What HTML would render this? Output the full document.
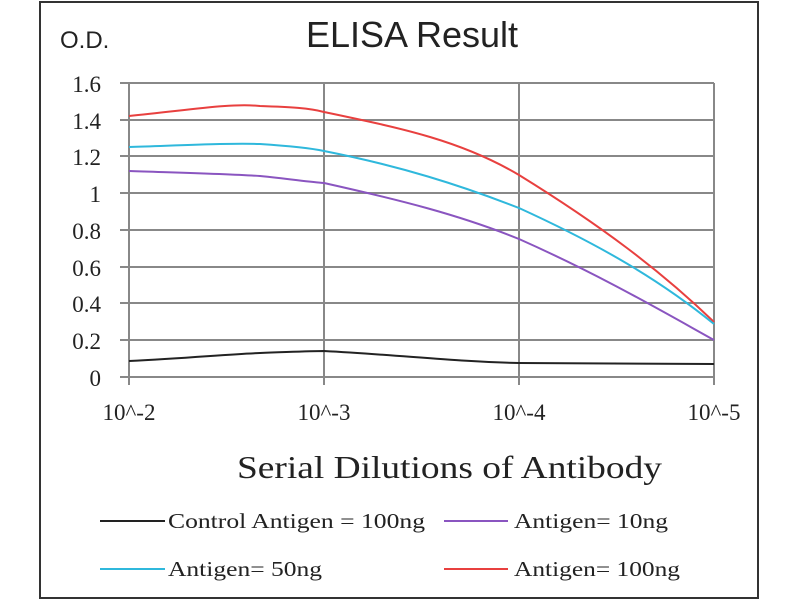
<!DOCTYPE html>
<html><head><style>body{margin:0;background:#fff}svg{display:block}</style></head>
<body>
<svg width="800" height="600" xmlns="http://www.w3.org/2000/svg">
<rect width="800" height="600" fill="#fff"/>
<rect x="40" y="2" width="718" height="596" fill="none" stroke="#333" stroke-width="2"/>
<text x="60" y="48" font-family="Liberation Sans, sans-serif" font-size="24" fill="#222">O.D.</text>
<text x="412" y="47" text-anchor="middle" font-family="Liberation Sans, sans-serif" font-size="36" fill="#222">ELISA Result</text>
<g stroke="#888" stroke-width="2">
<line x1="120" y1="83" x2="714" y2="83"/><line x1="120" y1="120" x2="714" y2="120"/>
<line x1="120" y1="156" x2="714" y2="156"/><line x1="120" y1="193" x2="714" y2="193"/>
<line x1="120" y1="230" x2="714" y2="230"/><line x1="120" y1="267" x2="714" y2="267"/>
<line x1="120" y1="303" x2="714" y2="303"/><line x1="120" y1="340" x2="714" y2="340"/>
<line x1="120" y1="377" x2="714" y2="377"/>
<line x1="129" y1="83" x2="129" y2="385"/><line x1="324" y1="83" x2="324" y2="385"/>
<line x1="519" y1="83" x2="519" y2="385"/><line x1="714" y1="83" x2="714" y2="385"/>
</g>
<g font-family="Liberation Serif, serif" font-size="23" fill="#222" text-anchor="end">
<text x="101" y="92">1.6</text><text x="101" y="129">1.4</text><text x="101" y="165">1.2</text>
<text x="101" y="202">1</text><text x="101" y="239">0.8</text><text x="101" y="276">0.6</text>
<text x="101" y="312">0.4</text><text x="101" y="349">0.2</text><text x="101" y="386">0</text>
</g>
<g font-family="Liberation Serif, serif" font-size="23" fill="#222" text-anchor="middle">
<text x="129" y="420">10^-2</text><text x="324" y="420">10^-3</text>
<text x="519" y="420">10^-4</text><text x="714" y="420">10^-5</text>
</g>
<text x="237" y="478" textLength="425" lengthAdjust="spacingAndGlyphs" font-family="Liberation Serif, serif" font-size="32" fill="#222">Serial Dilutions  of Antibody</text>
<g fill="none" stroke-width="2">
<path d="M129 116 C190 110 230 103 260 106 C290 107 310 108 324 112 C400 128 460 140 519 175 C600 225 660 270 714 322" stroke="#e8403f"/>
<path d="M129 147 C190 145 230 143 260 144 C290 146 310 148 324 151 C400 166 460 185 519 208 C600 245 660 280 714 324" stroke="#2fb8dc"/>
<path d="M129 171 C190 173 230 174 260 176 C290 179 310 182 324 183 C400 200 460 215 519 239 C600 275 660 310 714 340" stroke="#8a55c0"/>
<path d="M129 361 C190 358 230 354 260 353 C290 352 310 351 324 351 C400 355 460 362 519 363 C600 364 660 364 714 364" stroke="#222"/>
</g>
<g stroke-width="2">
<line x1="100" y1="521" x2="165" y2="521" stroke="#222"/>
<line x1="444" y1="521" x2="508" y2="521" stroke="#8a55c0"/>
<line x1="100" y1="569" x2="165" y2="569" stroke="#2fb8dc"/>
<line x1="444" y1="569" x2="508" y2="569" stroke="#e8403f"/>
</g>
<g font-family="Liberation Serif, serif" font-size="21" fill="#222">
<text x="168" y="528" textLength="257" lengthAdjust="spacingAndGlyphs">Control Antigen = 100ng</text>
<text x="514" y="528" textLength="154" lengthAdjust="spacingAndGlyphs">Antigen= 10ng</text>
<text x="168" y="576" textLength="154" lengthAdjust="spacingAndGlyphs">Antigen= 50ng</text>
<text x="514" y="576" textLength="166" lengthAdjust="spacingAndGlyphs">Antigen= 100ng</text>
</g>
</svg>
</body></html>
